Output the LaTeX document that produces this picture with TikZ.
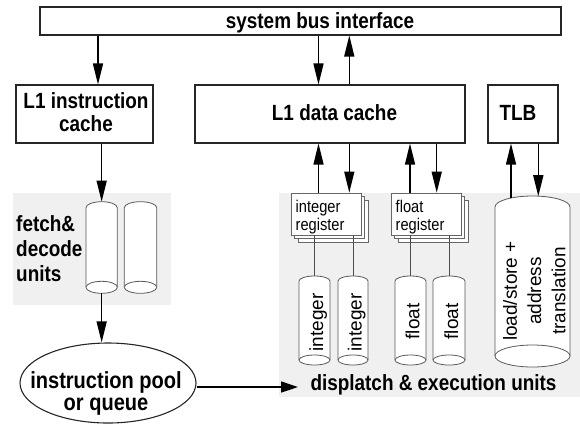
\documentclass[tikz,border=0pt]{standalone}
\usepackage{fontspec}
\setmainfont{Liberation Sans}
\newfontfamily\cf[FakeStretch=0.86]{Liberation Sans}
\usetikzlibrary{arrows.meta,shapes.geometric}
\newcommand\drawcyl[5]{%
  \pgfmathsetmacro\cylrx{(#2-#1)/2}%
  \draw[cyl] (#1,#3+#5) arc[start angle=180,end angle=360,x radius=\cylrx,y radius=#5] -- (#2,#4-#5) arc[start angle=0,end angle=180,x radius=\cylrx,y radius=#5] -- cycle;
  \draw[cyl] (#1,#4-#5) arc[start angle=180,end angle=360,x radius=\cylrx,y radius=#5];
}
\tikzset{
  zone/.style={fill=black!6},
  box/.style={draw=black!85,line width=1.1pt,fill=white,inner sep=0pt},
  arr/.style={line width=1.4pt,-{Triangle[length=21pt,width=10pt]}},
  harr/.style={line width=1.4pt,-{Triangle[length=17pt,width=11pt]}},
  cyl/.style={draw=black!65,line width=0.8pt,fill=white},
  reg/.style={draw=black!60,line width=0.7pt,fill=white,minimum width=70,minimum height=42,inner sep=0pt},
  link/.style={draw=black!70,line width=0.9pt},
  bt/.style={font={\cf\bfseries\fontsize{22}{22.5}\selectfont},inner sep=0pt,align=center},
  rt/.style={font={\cf\fontsize{17}{17.5}\selectfont},inner sep=0pt,align=left},
  vt/.style={font={\fontsize{19}{24.3}\selectfont},inner sep=0pt,align=center,rotate=90},
}
\begin{document}
\begin{tikzpicture}[x=1pt,y=-1pt]
\useasboundingbox (0,0) rectangle (580,432);
% shaded zones
\fill[zone] (13,192.5) rectangle (170.7,305);
\fill[zone] (279,193) rectangle (580,397);
% boxes
\node[box,minimum width=521,minimum height=28] (bus) at (300.5,21) {};
\node[bt,anchor=base] (bustxt) at (320,28.3) {system bus interface};
\node[box,minimum width=137,minimum height=58] (icache) at (84.5,114) {};
\node[bt] (icachetxt) at (86,112) {L1 instruction\\cache};
\node[box,minimum width=270,minimum height=58] (dcache) at (330,114) {};
\node[bt,anchor=base] (dcachetxt) at (334.5,120) {L1 data cache};
\node[box,minimum width=70,minimum height=58] (tlb) at (523,114) {};
\node[bt,anchor=base] (tlbtxt) at (518,120) {TLB};
% fetch & decode
\drawcyl{86}{117.3}{201.7}{293.3}{6}
\drawcyl{124.3}{156.7}{201.7}{293.3}{6}
\coordinate (f1top) at (101.65,201.7);
\coordinate (f1bot) at (101.65,293.3);
\node[bt,align=left,anchor=north west,font={\cf\bfseries\fontsize{22}{25}\selectfont}] (fetchtxt) at (16,215) {fetch\&\\decode\\units};
% instruction pool
\node[draw=black!85,line width=1.1pt,fill=white,ellipse,minimum width=176,minimum height=80,inner sep=0pt] (pool) at (108,383) {};
\node[bt,font={\cf\bfseries\fontsize{23.3}{22.4}\selectfont}] (pooltxt) at (106,393.5) {instruction pool\\or queue};
% registers
\node[reg] (ireg3) at (333,221) {};
\node[reg] (ireg2) at (329.5,217.5) {};
\node[reg] (ireg) at (326,214) {};
\node[rt,anchor=north west] (iregtxt) at (295.5,200) {integer\\register};
\node[reg] (freg3) at (433,221) {};
\node[reg] (freg2) at (429.5,217.5) {};
\node[reg] (freg) at (426,214) {};
\node[rt,anchor=north west] (fregtxt) at (395.5,200) {float\\register};
% execution cylinders
\drawcyl{299}{330}{276}{365}{5}
\drawcyl{338}{368}{276}{365}{5}
\drawcyl{395}{426}{276}{365}{5}
\drawcyl{433}{465}{276}{365}{5}
\drawcyl{495}{570}{196}{367}{11}
\node[vt,anchor=base] (int1) at (323,322.3) {integer};
\node[vt,anchor=base] (int2) at (361.5,322.3) {integer};
\node[vt,anchor=base] (flt1) at (419.3,321.5) {float};
\node[vt,anchor=base] (flt2) at (458,321.5) {float};
\node[vt] (lstxt) at (534.3,291) {load/store +\\address\\translation};
\node[bt,anchor=base] (exectxt) at (433.5,390.5) {displatch \& execution units};
% coordinates for connectors
\coordinate (xA) at (98,0);
\coordinate (xB) at (318.5,0);
\coordinate (xC) at (349.3,0);
\coordinate (xD) at (410,0);
\coordinate (xE) at (436.7,0);
\coordinate (i1) at (314.5,276);
\coordinate (i2) at (353,276);
\coordinate (fl1) at (410.5,276);
\coordinate (fl2) at (449,276);
\coordinate (ls1) at (511,198);
\coordinate (ls2) at (538.3,196.2);
\coordinate (dtip) at (298,387);
% connectors
\draw[arr] (xA |- bus.south) -- (xA |- icache.north);
\draw[arr] (f1top |- icache.south) -- (f1top);
\draw[arr] (f1bot) -- (f1bot |- pool.north);
\draw[harr] (pool.east |- dtip) -- (dtip);
\draw[arr] (xB |- bus.south) -- (xB |- dcache.north);
\draw[arr] (xC |- dcache.north) -- (xC |- bus.south);
\draw[arr] (xB |- ireg.north) -- (xB |- dcache.south);
\draw[arr] (xC |- dcache.south) -- (xC |- ireg.north);
\draw[arr] (xD |- freg.north) -- (xD |- dcache.south);
\draw[arr] (xE |- dcache.south) -- (xE |- freg.north);
\draw[arr] (ls1) -- (ls1 |- tlb.south);
\draw[arr] (ls2 |- tlb.south) -- (ls2);
\draw[link] (i1 |- ireg.south) -- (i1);
\draw[link] (i2 |- ireg.south) -- (i2);
\draw[link] (fl1 |- freg.south) -- (fl1);
\draw[link] (fl2 |- freg.south) -- (fl2);
\end{tikzpicture}
\end{document}
